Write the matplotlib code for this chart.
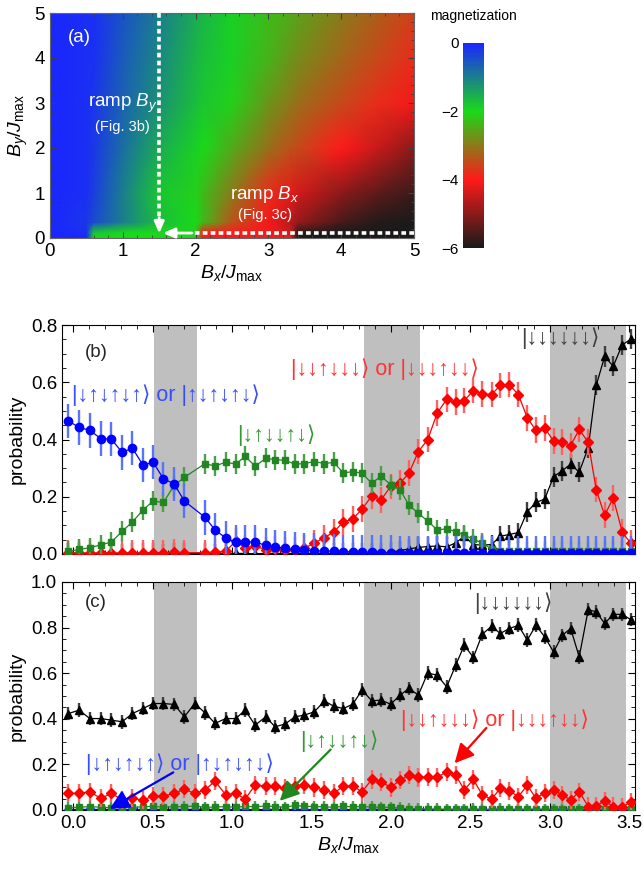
import numpy as np
import matplotlib
matplotlib.use('Agg')
import matplotlib.pyplot as plt
from matplotlib.colors import LinearSegmentedColormap
from matplotlib.ticker import MultipleLocator, FormatStrFormatter

plt.rcParams['font.family'] = ['Liberation Sans', 'DejaVu Sans']
plt.rcParams['mathtext.fontset'] = 'custom'
plt.rcParams['mathtext.rm'] = 'Liberation Sans'
plt.rcParams['mathtext.it'] = 'Liberation Sans:italic'
plt.rcParams['mathtext.bf'] = 'Liberation Sans:bold'

# ---------------- panel (a): magnetization map ----------------
bx_grid = [0, 0.5, 0.6, 1, 1.5, 2, 2.1, 2.5, 3, 3.3, 3.4, 4, 4.5, 5]
by_grid = [0, 0.12, 0.35, 1, 2, 3, 4, 5]
mag_by0 = [0, 0, -2, -2, -2, -2, -4, -4, -4, -4, -6, -6, -6, -6]
mag_by012 = [0, -0.1, -1.8, -2, -2, -2.1, -3.9, -4, -4.1, -4.4, -5.8, -6, -6, -6]
mag_by035 = [0, -0.2, -0.4, -1.0, -1.7, -2.0, -2.3, -3.4, -4.1, -4.6, -4.9, -5.6, -5.9, -6.0]
mag_by1 = [0, -0.1, -0.3, -1.0, -1.8, -2.1, -2.3, -3.0, -3.8, -4.2, -4.4, -5.0, -5.4, -5.7]
mag_by2 = [0, -0.1, -0.2, -0.8, -1.5, -1.9, -2.0, -2.5, -3.1, -3.4, -3.5, -4.0, -4.5, -5.0]
mag_by3 = [0, -0.1, -0.2, -0.7, -1.2, -1.7, -1.8, -2.1, -2.7, -3.0, -3.1, -3.5, -3.8, -4.1]
mag_by4 = [0, -0.1, -0.1, -0.6, -1.1, -1.6, -1.7, -1.9, -2.4, -2.7, -2.8, -3.2, -3.5, -3.8]
mag_by5 = [0, -0.1, -0.1, -0.5, -1.0, -1.5, -1.6, -1.9, -2.3, -2.5, -2.6, -3.0, -3.3, -3.6]

# ---------------- panels (b), (c): probabilities ----------------
bx_points = [-0.030, 0.038, 0.105, 0.174, 0.241, 0.308, 0.373, 0.440, 0.503, 0.568,
             0.635, 0.700, 0.765, 0.830, 0.893, 0.960, 1.023, 1.082, 1.145, 1.212,
             1.270, 1.333, 1.396, 1.455, 1.518, 1.581, 1.640, 1.700, 1.759, 1.818,
             1.879, 1.937, 1.998, 2.057, 2.113, 2.172, 2.231, 2.291, 2.350, 2.407,
             2.461, 2.518, 2.574, 2.633, 2.687, 2.744, 2.801, 2.857, 2.912, 2.967,
             3.023, 3.077, 3.130, 3.184, 3.241, 3.291, 3.344, 3.398, 3.455, 3.508]

nan = float('nan')
b_neel = [0.465, 0.442, 0.432, 0.403, 0.401, 0.355, 0.370, 0.310, 0.321, 0.263,
          0.245, 0.185, nan, 0.128, 0.084, 0.056, 0.041, 0.043, 0.042, 0.030,
          0.025, 0.020, 0.016, 0.013, 0.012, 0.010, 0.010, 0.008, 0.008, 0.007,
          0.006, 0.005, 0.005, 0.004, 0.003, 0.003, 0.003, 0.002, 0.003, 0.002,
          0.002, 0.003, 0.002, 0.002, 0.002, 0.002, 0.003, 0.002, 0.002, 0.002,
          0.002, 0.002, 0.002, 0.002, 0.002, 0.002, 0.002, 0.002, 0.002, 0.002]
b_green = [0.009, 0.016, 0.022, 0.032, 0.042, 0.079, 0.112, 0.154, 0.185, 0.180,
           0.239, 0.268, nan, 0.316, 0.307, 0.321, 0.314, 0.341, 0.307, 0.334,
           0.330, 0.327, 0.314, 0.316, 0.323, 0.316, 0.320, 0.283, 0.288, 0.282,
           0.247, 0.272, 0.242, 0.224, 0.171, 0.142, 0.115, 0.084, 0.088, 0.078,
           0.066, 0.052, 0.038, 0.017, 0.012, 0.012, 0.011, 0.010, 0.011, 0.010,
           0.010, 0.011, 0.010, 0.010, 0.011, 0.010, 0.010, 0.011, 0.010, 0.010]
b_red = [0.004, 0.003, 0.004, 0.003, 0.004, 0.003, 0.004, 0.003, 0.005, 0.004,
         0.006, 0.004, nan, 0.005, 0.006, 0.010, 0.045, 0.022, 0.028, 0.015,
         0.018, 0.015, 0.014, 0.020, 0.039, 0.057, 0.077, 0.112, 0.122, 0.157,
         0.203, 0.189, 0.236, 0.248, 0.282, 0.358, 0.400, 0.493, 0.540, 0.530,
         0.536, 0.571, 0.559, 0.557, 0.589, 0.592, 0.557, 0.476, 0.432, 0.441,
         0.394, 0.392, 0.379, 0.435, 0.390, 0.225, 0.135, 0.196, 0.076, 0.038]
b_black = [0.002, 0.002, 0.001, 0.002, 0.002, 0.001, 0.002, 0.002, 0.002, 0.001,
           0.002, 0.002, nan, 0.002, 0.001, 0.002, 0.002, 0.002, 0.001, 0.002,
           0.002, 0.002, 0.002, 0.002, 0.002, 0.002, 0.002, 0.002, 0.002, 0.002,
           0.003, 0.004, 0.006, 0.012, 0.018, 0.023, 0.026, 0.028, 0.025, 0.039,
           0.062, 0.033, 0.031, 0.033, 0.062, 0.068, 0.075, 0.148, 0.180, 0.192,
           0.270, 0.291, 0.314, 0.286, 0.372, 0.589, 0.690, 0.656, 0.731, 0.750]

c_black = [0.423, 0.438, 0.401, 0.401, 0.394, 0.387, 0.423, 0.445, 0.467, 0.467,
           0.463, 0.409, 0.467, 0.426, 0.380, 0.401, 0.401, 0.438, 0.372, 0.409,
           0.365, 0.377, 0.409, 0.416, 0.431, 0.478, 0.455, 0.445, 0.464, 0.526,
           0.479, 0.482, 0.464, 0.504, 0.533, 0.504, 0.601, 0.591, 0.540, 0.635,
           0.723, 0.669, 0.771, 0.806, 0.774, 0.796, 0.810, 0.745, 0.810, 0.759,
           0.693, 0.766, 0.796, 0.672, 0.879, 0.869, 0.818, 0.858, 0.858, 0.835]
c_red = [0.073, 0.073, 0.080, 0.051, 0.073, 0.044, 0.051, 0.044, 0.061, 0.061,
         0.073, 0.091, 0.073, 0.088, 0.127, 0.066, 0.073, 0.048, 0.109, 0.105,
         0.105, 0.095, 0.105, 0.109, 0.099, 0.088, 0.073, 0.105, 0.105, 0.080,
         0.134, 0.124, 0.099, 0.131, 0.153, 0.143, 0.146, 0.143, 0.168, 0.153,
         0.088, 0.134, 0.066, 0.047, 0.095, 0.085, 0.058, 0.109, 0.051, 0.076,
         0.088, 0.066, 0.044, 0.080, 0.015, 0.018, 0.041, 0.015, 0.012, 0.036]
c_green = [0.010, 0.012, 0.015, 0.012, 0.010, 0.015, 0.012, 0.014, 0.016, 0.012,
           0.015, 0.014, 0.018, 0.012, 0.013, 0.015, 0.012, 0.016, 0.014, 0.018,
           0.015, 0.012, 0.020, 0.016, 0.015, 0.014, 0.012, 0.016, 0.014, 0.015,
           0.013, 0.012, 0.012, 0.008, 0.006, 0.005, 0.004, 0.004, 0.003, 0.003,
           0.003, 0.004, 0.003, 0.003, 0.004, 0.003, 0.003, 0.003, 0.004, 0.003,
           0.003, 0.003, 0.003, 0.003, 0.003, 0.003, 0.003, 0.003, 0.003, 0.003]
c_neel = [0.002, 0.002, 0.003, 0.002, 0.002, 0.002, 0.003, 0.002, 0.002, 0.002,
          0.002, 0.002, 0.002, 0.003, 0.002, 0.002, 0.002, 0.002, 0.002, 0.002,
          0.002, 0.002, 0.002, 0.002, 0.002, 0.002, 0.002, 0.002, 0.002, 0.002,
          0.002, 0.002, 0.002, 0.002, 0.002, 0.002, 0.002, 0.002, 0.002, 0.002,
          0.002, 0.002, 0.002, 0.002, 0.002, 0.002, 0.002, 0.002, 0.002, 0.002,
          0.002, 0.002, 0.002, 0.002, 0.002, 0.002, 0.002, 0.002, 0.002, 0.002]

err_b = {'neel': 0.06, 'green': 0.035, 'red': 0.045, 'black': 0.035}
err_c = {'neel': 0.025, 'green': 0.025, 'red': 0.04, 'black': 0.03}
gray_bands = [(0.51, 0.78), (1.83, 2.18), (3.0, 3.48)]

ket_neel = '|↓↑↓↑↓↑⟩ or |↑↓↑↓↑↓⟩'
ket_green = '|↓↑↓↓↑↓⟩'
ket_red = '|↓↓↑↓↓↓⟩ or |↓↓↓↑↓↓⟩'
ket_black = '|↓↓↓↓↓↓⟩'

# ---------------- colours ----------------
C_BLUE = (0.0, 0.0, 1.0)
C_GREEN = (0.13, 0.52, 0.13)
C_RED = (1.0, 0.0, 0.0)
C_BLACK = (0.0, 0.0, 0.0)
E_BLUE = (0.35, 0.45, 1.0)
E_GREEN = (0.3, 0.62, 0.3)
E_RED = (1.0, 0.38, 0.38)
E_BLACK = (0.25, 0.25, 0.25)
T_BLUE = (0.22, 0.3, 1.0)
T_GREEN = (0.2, 0.6, 0.2)
T_RED = (1.0, 0.2, 0.2)
T_BLACK = (0.25, 0.25, 0.25)

FS = 13.5
KFS = 15.5

fig = plt.figure(figsize=(6.44, 8.74), dpi=100)

# ---------------- panel a ----------------
ax_a = fig.add_axes([50/644, 1-238/874, 364/644, 225/874])
cmap = LinearSegmentedColormap.from_list(
    'mag', [(0.0, (0.1, 0.1, 0.1)), (1/3, (1.0, 0.1, 0.1)),
            (2/3, (0.1, 0.85, 0.1)), (1.0, (0.1, 0.15, 1.0))])
M = np.array([mag_by0, mag_by012, mag_by035, mag_by1, mag_by2, mag_by3, mag_by4, mag_by5])
BX, BY = np.meshgrid(bx_grid, by_grid)
mesh = ax_a.pcolormesh(BX, BY, M, shading='gouraud', cmap=cmap, vmin=-6, vmax=0,
                       rasterized=True)
ax_a.set_xlim(0, 5)
ax_a.set_ylim(0, 5)
ax_a.xaxis.set_major_locator(MultipleLocator(1))
ax_a.yaxis.set_major_locator(MultipleLocator(1))
ax_a.xaxis.set_minor_locator(MultipleLocator(0.2))
ax_a.yaxis.set_minor_locator(MultipleLocator(0.2))
ax_a.tick_params(which='both', direction='in', top=True, right=True, labelsize=FS,
                 color=(0.25, 0.25, 0.25))
ax_a.tick_params(which='major', length=4)
ax_a.tick_params(which='minor', length=2.5)
ax_a.set_xlabel(r'$B_x/J_{\mathrm{max}}$', fontsize=FS + 0.5, labelpad=2)
ax_a.set_ylabel(r'$B_y/J_{\mathrm{max}}$', fontsize=FS + 0.5, labelpad=3)
for s in ax_a.spines.values():
    s.set_color((0.4, 0.4, 0.4))

dash = (0, (1.3, 0.9))
ax_a.plot([1.5, 1.5], [5.0, 0.42], color='white', lw=2.6, ls=dash, zorder=3)
ax_a.annotate('', xy=(1.5, 0.1), xytext=(1.5, 0.45),
              arrowprops=dict(arrowstyle='-|>,head_length=0.7,head_width=0.3',
                              color='white', lw=2.0, shrinkA=0, shrinkB=0), zorder=4)
ax_a.plot([5.0, 1.95], [0.11, 0.11], color='white', lw=2.6, ls=dash, zorder=3,
          clip_on=False)
ax_a.annotate('', xy=(1.55, 0.11), xytext=(1.95, 0.11),
              arrowprops=dict(arrowstyle='-|>,head_length=0.7,head_width=0.3',
                              color='white', lw=2.0, shrinkA=0, shrinkB=0), zorder=4)
ax_a.text(0.25, 4.45, '(a)', color='white', fontsize=FS, ha='left', va='center')
ax_a.text(1.0, 3.0, r'ramp $B_y$', color='white', fontsize=FS, ha='center', va='center')
ax_a.text(1.0, 2.47, '(Fig. 3b)', color='white', fontsize=10.5, ha='center', va='center')
ax_a.text(2.95, 0.97, r'ramp $B_x$', color='white', fontsize=FS, ha='center', va='center')
ax_a.text(2.95, 0.5, '(Fig. 3c)', color='white', fontsize=10.5, ha='center', va='center')

cax = fig.add_axes([463/644, 1-248/874, 21/644, 205/874])
cb = fig.colorbar(mesh, cax=cax, ticks=[0, -2, -4, -6])
cb.outline.set_visible(False)
cax.yaxis.set_ticks_position('left')
cax.set_yticklabels(['0', '\u22122', '\u22124', '\u22126'])
cax.tick_params(labelsize=11, length=0, pad=3)
fig.text(473/644, 1-16/874, 'magnetization', fontsize=10, ha='center', va='center')


def style_prob(ax, ymax, labels):
    ax.set_xlim(-0.07, 3.535)
    ax.set_ylim(0, ymax)
    ax.xaxis.set_major_locator(MultipleLocator(0.5))
    ax.xaxis.set_minor_locator(MultipleLocator(0.1))
    ax.yaxis.set_major_locator(MultipleLocator(0.2))
    ax.yaxis.set_minor_locator(MultipleLocator(0.05))
    ax.yaxis.set_major_formatter(FormatStrFormatter('%.1f'))
    ax.xaxis.set_major_formatter(FormatStrFormatter('%.1f'))
    ax.tick_params(which='both', direction='in', top=True, right=True, labelsize=FS)
    ax.tick_params(which='major', length=5)
    ax.tick_params(which='minor', length=3)
    if not labels:
        ax.tick_params(labelbottom=False)
    ax.set_ylabel('probability', fontsize=FS + 0.5, labelpad=4)
    for lo, hi in gray_bands:
        ax.axvspan(lo, hi, color=(0.75, 0.75, 0.75), lw=0, zorder=0)


def series(ax, y, err, marker, ms, color, ecolor, z):
    x = np.asarray(bx_points)
    y = np.asarray(y, float)
    m = ~np.isnan(y)
    ax.errorbar(x[m], y[m], yerr=err, fmt='-', marker=marker, ms=ms, color=color,
                mec=color, mfc=color, ecolor=ecolor, elinewidth=1.7, capsize=0,
                lw=0.9, zorder=z, clip_on=True)


arrow_kw = dict(arrowstyle='-|>,head_length=0.9,head_width=0.45', lw=1.6,
                shrinkA=0, shrinkB=0, mutation_scale=13)

# ---------------- panel b ----------------
ax_b = fig.add_axes([62/644, 1-554/874, 573/644, 229/874])
style_prob(ax_b, 0.8, False)
series(ax_b, b_black, err_b['black'], '^', 5.5, C_BLACK, E_BLACK, 3)
series(ax_b, b_red, err_b['red'], 'D', 5.0, C_RED, E_RED, 4)
series(ax_b, b_green, err_b['green'], 's', 5.0, C_GREEN, E_GREEN, 5)
series(ax_b, b_neel, err_b['neel'], 'o', 6.0, C_BLUE, E_BLUE, 6)
ax_b.text(0.075, 0.705, '(b)', fontsize=FS, ha='left', va='center', color=(0.15, 0.15, 0.15))
ax_b.text(-0.005, 0.555, ket_neel, fontsize=KFS, color=T_BLUE, ha='left', va='center')
ax_b.text(1.03, 0.415, ket_green, fontsize=KFS, color=T_GREEN, ha='left', va='center')
ax_b.text(1.37, 0.645, ket_red, fontsize=KFS, color=T_RED, ha='left', va='center')
ax_b.text(2.82, 0.755, ket_black, fontsize=KFS, color=T_BLACK, ha='left', va='center')

# ---------------- panel c ----------------
ax_c = fig.add_axes([62/644, 1-810/874, 573/644, 228/874])
style_prob(ax_c, 1.0, True)
series(ax_c, c_neel, err_c['neel'], 'o', 5.0, C_BLUE, E_BLUE, 3)
series(ax_c, c_green, err_c['green'], 's', 4.5, C_GREEN, E_GREEN, 4)
series(ax_c, c_red, err_c['red'], 'D', 5.0, C_RED, E_RED, 5)
series(ax_c, c_black, err_c['black'], '^', 5.5, C_BLACK, E_BLACK, 6)
ax_c.set_xlabel(r'$B_x/J_{\mathrm{max}}$', fontsize=FS + 0.5, labelpad=2)
ax_c.text(0.075, 0.91, '(c)', fontsize=FS, ha='left', va='center', color=(0.15, 0.15, 0.15))
ax_c.text(2.52, 0.905, ket_black, fontsize=KFS, color=T_BLACK, ha='left', va='center')
ax_c.text(2.06, 0.395, ket_red, fontsize=KFS, color=T_RED, ha='left', va='center')
ax_c.text(1.43, 0.30, ket_green, fontsize=KFS, color=T_GREEN, ha='left', va='center')
ax_c.text(0.08, 0.20, ket_neel, fontsize=KFS, color=T_BLUE, ha='left', va='center')
ax_c.annotate('', xy=(2.40, 0.205), xytext=(2.60, 0.36),
              arrowprops=dict(color=C_RED, **arrow_kw), zorder=7)
ax_c.annotate('', xy=(1.30, 0.04), xytext=(1.62, 0.265),
              arrowprops=dict(color=C_GREEN, **arrow_kw), zorder=7)
ax_c.annotate('', xy=(0.23, 0.005), xytext=(0.63, 0.165),
              arrowprops=dict(color=C_BLUE, **arrow_kw), zorder=7)

fig.savefig('out.png', dpi=100)
